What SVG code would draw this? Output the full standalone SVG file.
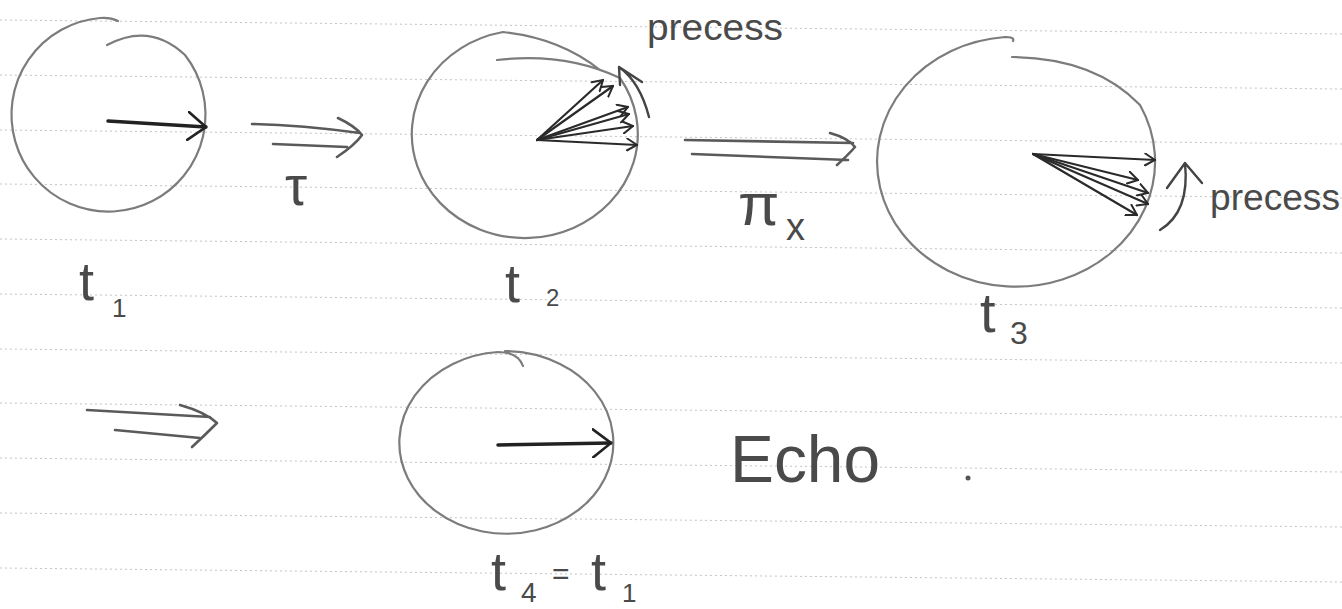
<svg xmlns="http://www.w3.org/2000/svg" width="1342" height="609" viewBox="0 0 1342 609">
<style>
.rule{stroke:#c4c4c4;stroke-width:1;stroke-dasharray:2 3;fill:none}
.circ{fill:none;stroke:#7c7c7c;stroke-width:2.2;stroke-linecap:round;stroke-linejoin:round}
.vec{fill:none;stroke:#2a2a2a;stroke-width:2.2;stroke-linecap:round}
.vecb{fill:none;stroke:#222;stroke-width:3.5;stroke-linecap:round}
.trans{fill:none;stroke:#5a5a5a;stroke-width:2.6;stroke-linecap:round;stroke-linejoin:round}
.pre{fill:none;stroke:#444;stroke-width:2.4;stroke-linecap:round;stroke-linejoin:round}
.lbl{font-family:"Liberation Sans","DejaVu Sans",sans-serif;fill:#4a4a4a}
</style>
<defs>
<marker id="vee" viewBox="0 0 20 30" refX="19" refY="15" markerWidth="20" markerHeight="30" markerUnits="userSpaceOnUse" orient="auto">
<path d="M1,1 L19,15 L1,29" fill="none" stroke="#222" stroke-width="2.6" stroke-linecap="round"/>
</marker>
<marker id="vee-s" viewBox="0 0 12 14" refX="11" refY="7" markerWidth="12" markerHeight="14" markerUnits="userSpaceOnUse" orient="auto">
<path d="M1,1 L11,7 L1,13" fill="none" stroke="#2a2a2a" stroke-width="2" stroke-linecap="round"/>
</marker>
</defs>
<rect width="1342" height="609" fill="#fff"/>
<g id="paper-rules">
<line class="rule" x1="0" y1="20" x2="1342" y2="34"/>
<line class="rule" x1="0" y1="75" x2="1342" y2="89"/>
<line class="rule" x1="0" y1="130" x2="1342" y2="144"/>
<line class="rule" x1="0" y1="184" x2="1342" y2="198"/>
<line class="rule" x1="0" y1="239" x2="1342" y2="253"/>
<line class="rule" x1="0" y1="294" x2="1342" y2="308"/>
<line class="rule" x1="0" y1="349" x2="1342" y2="363"/>
<line class="rule" x1="0" y1="403" x2="1342" y2="417"/>
<line class="rule" x1="0" y1="458" x2="1342" y2="472"/>
<line class="rule" x1="0" y1="513" x2="1342" y2="527"/>
<line class="rule" x1="0" y1="568" x2="1342" y2="582"/>
</g>
<g id="state-t1">
<path class="circ" d="M107 45 Q150 22 185 55 A97 97 0 1 1 100 18 Q110 17 118 21"/>
<line class="vecb" x1="108" y1="121" x2="206" y2="127" marker-end="url(#vee)"/>
<text class="lbl" x="79" y="300" font-size="54">t</text>
<text class="lbl" x="112" y="317" font-size="26">1</text>
</g>
<g id="state-t2">
<path class="circ" d="M497 60 Q565 52 620 78 A113 104 0 1 1 503 32 Q560 38 600 70"/>
<g>
<line class="vec" x1="537" y1="140" x2="603" y2="80" marker-end="url(#vee-s)"/>
<line class="vec" x1="537" y1="140" x2="613" y2="86" marker-end="url(#vee-s)"/>
<line class="vec" x1="537" y1="140" x2="628" y2="107" marker-end="url(#vee-s)"/>
<line class="vec" x1="537" y1="140" x2="629" y2="114" marker-end="url(#vee-s)"/>
<line class="vec" x1="537" y1="140" x2="633" y2="126" marker-end="url(#vee-s)"/>
<line class="vec" x1="537" y1="140" x2="637" y2="145" marker-end="url(#vee-s)"/>
</g>
<path class="pre" d="M649 117 Q640 82 619 67 M620 85 L619 67 L642 82"/>
<text class="lbl" x="647" y="40" font-size="36" textLength="136" lengthAdjust="spacingAndGlyphs">precess</text>
<text class="lbl" x="505" y="302" font-size="54">t</text>
<text class="lbl" x="546" y="306" font-size="24">2</text>
</g>
<g id="state-t3">
<path class="circ" d="M1012 57 Q1095 58 1140 105 A139 125 0 1 1 1005 37 Q1015 37 1013 41"/>
<g>
<line class="vec" x1="1033" y1="154" x2="1155" y2="160" marker-end="url(#vee-s)"/>
<line class="vec" x1="1033" y1="154" x2="1138" y2="180" marker-end="url(#vee-s)"/>
<line class="vec" x1="1033" y1="154" x2="1148" y2="193" marker-end="url(#vee-s)"/>
<line class="vec" x1="1033" y1="154" x2="1148" y2="204" marker-end="url(#vee-s)"/>
<line class="vec" x1="1033" y1="154" x2="1137" y2="215" marker-end="url(#vee-s)"/>
</g>
<path class="pre" d="M1160 230 Q1190 212 1185 163 M1167 188 L1185 163 L1202 183"/>
<text class="lbl" x="1210" y="210" font-size="36" textLength="130" lengthAdjust="spacingAndGlyphs">precess</text>
<text class="lbl" x="980" y="332" font-size="56">t</text>
<text class="lbl" x="1010" y="344" font-size="32">3</text>
</g>
<g id="state-t4">
<path class="circ" d="M523 366 Q518 352 498 352 A107 91 0 1 0 560 364 A107 91 0 0 0 505 351"/>
<line class="vecb" x1="498" y1="445" x2="611" y2="443" marker-end="url(#vee)"/>
<text class="lbl" x="491" y="590" font-size="54">t</text>
<text class="lbl" x="521" y="602" font-size="28">4</text>
<text class="lbl" x="552" y="584" font-size="30">=</text>
<text class="lbl" x="591" y="590" font-size="54">t</text>
<text class="lbl" x="622" y="602" font-size="26">1</text>
</g>
<g id="echo-label">
<text class="lbl" x="730" y="482" font-size="66" textLength="150" lengthAdjust="spacingAndGlyphs">Echo</text>
<circle cx="968" cy="478" r="2.5" fill="#555"/>
</g>
<g id="connectors">
<g id="tau-step">
<path class="trans" d="M252 124 Q300 125 360 133 M273 144 L347 147 M338 118 Q355 126 362 135 Q355 145 337 157"/>
<text class="lbl" x="285" y="205" font-size="56">τ</text>
</g>
<g id="pi-x-pulse">
<path class="trans" d="M685 140 L853 143 M692 154 L848 160 M830 133 Q848 138 855 147 Q848 155 837 165"/>
<text class="lbl" x="738" y="225" font-size="60">π</text>
<text class="lbl" x="786" y="240" font-size="38">x</text>
</g>
<g id="tau-step-2">
<path class="trans" d="M87 410 L210 417 M115 430 L200 438 M180 405 Q205 412 217 423 Q205 435 192 447"/>
</g>
</g>
</svg>
